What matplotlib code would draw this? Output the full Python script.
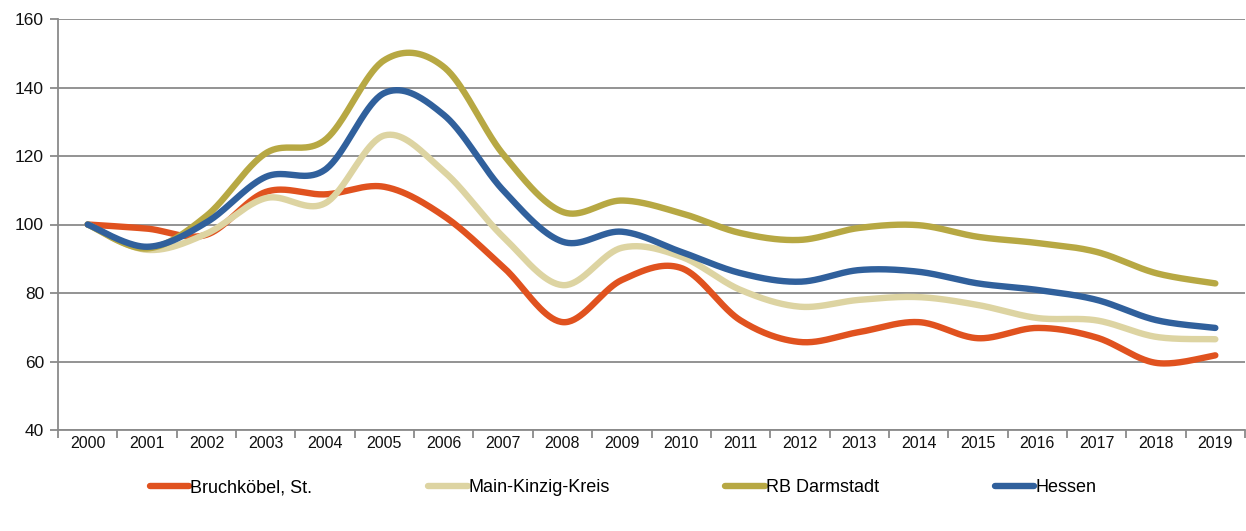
import numpy as np
import matplotlib
matplotlib.use("Agg")
import matplotlib.pyplot as plt
from matplotlib.lines import Line2D

years = [str(y) for y in range(2000, 2020)]

bruchkoebel = [100, 98.8, 97, 109.5, 108.8, 111, 102.5, 87.6, 71.5, 83.8, 87.3, 72, 65.7,
               68.6, 71.5, 66.8, 69.8, 67, 59.6, 61.8]
main_kinzig = [100, 92.6, 97.3, 107.7, 106.2, 126, 115.5, 96.4, 82.3, 93.2, 90.6, 80.9, 76,
               78, 78.8, 76.5, 72.7, 72, 67.2, 66.5]
rb_darmstadt = [100, 93, 102.5, 120.8, 124.7, 148, 146, 120.5, 103.7, 107, 103.3, 97.5, 95.5,
                99, 99.8, 96.4, 94.6, 92, 85.8, 82.8]
hessen = [100, 93.5, 100.6, 113.9, 116, 138.4, 132, 110, 95, 97.9, 92, 85.8, 83.3,
          86.7, 86.2, 82.8, 80.9, 78, 72.1, 69.8]

series = [
    ("Bruchköbel, St.", bruchkoebel, "#E0521F"),
    ("Main-Kinzig-Kreis", main_kinzig, "#DDD4A2"),
    ("RB Darmstadt", rb_darmstadt, "#B7A843"),
    ("Hessen", hessen, "#30609C"),
]

plt.rcParams["font.family"] = ["Liberation Sans", "DejaVu Sans"]


def smooth(x, y, n=40):
    """Bezier smoothing through every point (Catmull-Rom style)."""
    x = np.asarray(x, float)
    y = np.asarray(y, float)
    pts = np.column_stack([x, y])
    out = []
    m = len(pts)
    for i in range(m - 1):
        p0 = pts[max(i - 1, 0)]
        p1 = pts[i]
        p2 = pts[i + 1]
        p3 = pts[min(i + 2, m - 1)]
        c1 = p1 + (p2 - p0) / 6.0
        c2 = p2 - (p3 - p1) / 6.0
        t = np.linspace(0, 1, n, endpoint=(i == m - 2))[:, None]
        seg = ((1 - t) ** 3) * p1 + 3 * ((1 - t) ** 2) * t * c1 + 3 * (1 - t) * t ** 2 * c2 + t ** 3 * p2
        out.append(seg)
    out = np.vstack(out)
    return out[:, 0], out[:, 1]


fig = plt.figure(figsize=(12.46, 5.31), dpi=100)
ax = fig.add_axes([58 / 1246, 101 / 531, 1187 / 1246, 411 / 531])

xs = np.arange(len(years))
for name, vals, col in series:
    sx, sy = smooth(xs, vals)
    ax.plot(sx, sy, color=col, lw=4.6, solid_capstyle="round", zorder=3)

ax.set_xlim(-0.5, len(years) - 0.5)
ax.set_ylim(40, 160)
ax.set_yticks(range(40, 161, 20))
ax.yaxis.grid(True, color="#8a8a8a", lw=1.3)
ax.set_axisbelow(True)

ax.set_xticks(xs)
ax.set_xticklabels(years)
ax.set_xticks(np.arange(-0.5, len(years), 1.0), minor=True)
ax.tick_params(axis="x", which="major", length=0, pad=4, labelsize=11.5, colors="#111111")
ax.tick_params(axis="x", which="minor", length=6, width=1.3, color="#8a8a8a")
ax.tick_params(axis="y", length=6, width=1.3, color="#8a8a8a", labelsize=12.5,
               labelcolor="#111111", pad=4)

for s in ("top", "right"):
    ax.spines[s].set_visible(False)
for s in ("left", "bottom"):
    ax.spines[s].set_color("#8a8a8a")
    ax.spines[s].set_linewidth(1.3)

handles = [Line2D([], [], color=c, lw=4.6, solid_capstyle="round") for _, _, c in series]
labels = [n for n, _, _ in series]
fig.legend(handles, labels, loc="center", bbox_to_anchor=(0.5, 43 / 531), ncol=4,
           frameon=False, fontsize=13, handlelength=2.2, handletextpad=0.05,
           columnspacing=6.4)

fig.savefig("out.png", dpi=100)
